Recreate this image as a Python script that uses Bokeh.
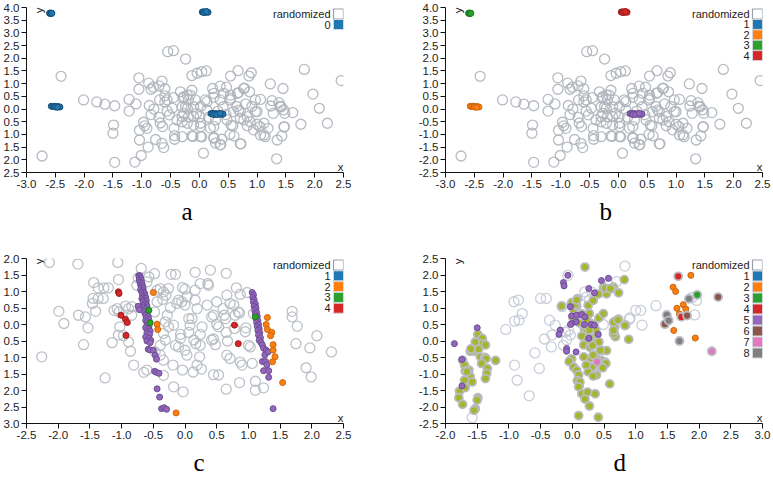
import math
from bokeh.plotting import figure
from bokeh.layouts import column, row
from bokeh.models import Range1d, FixedTicker, CustomJSTickFormatter, Title
from bokeh.core.properties import value
from bokeh.embed import file_html
from bokeh.resources import INLINE

# ---------------- data ----------------
# panels a and b share the same randomized (grey) points
AB_GREY_X = [-2.73, -2.40, -2.01, -1.78, -1.64, -1.47, -1.49, -1.50, -1.47, -1.12,
             -1.01, -1.05, -1.05, -1.22, -1.22, -1.10, -1.04, -1.04, -0.91, -0.89,
             -0.88, -0.84, -0.80, -0.87, -0.79, -0.95, -0.76, -0.70, -0.65, -0.60,
             -0.69, -0.60, -0.56, -0.70, -0.68, -0.64, -0.65, -0.62, -0.55, -0.45,
             -0.45, -0.47, -0.52, -0.44, -0.43, -0.43, -0.39, -0.33, -0.28, -0.30,
             -0.27, -0.30, -0.30, -0.24, -0.21, -0.19, -0.21, -0.19, -0.13, -0.04,
             0.04, 0.12, -0.13, -0.10, -0.05, -0.10, -0.13, 0.01, 0.02, 0.04,
             0.07, 0.10, 0.13, 0.23, 0.25, 0.25, 0.25, 0.28, 0.36, 0.36,
             0.41, 0.39, 0.37, 0.47, 0.54, 0.54, 0.53, 0.55, 0.53, 0.60,
             0.67, 0.66, 0.68, 0.71, 0.72, 0.77, 0.86, 0.90, 0.87, 0.83,
             0.83, 0.97, 1.00, 1.00, 1.06, 1.06, 1.14, 1.12, 1.19, 1.23,
             1.26, 1.24, 1.28, 1.38, 1.42, 1.45, 1.48, 1.47, 1.43, 1.35,
             1.34, 1.62, 1.76, 1.82, 1.97, 2.08, 2.22, 2.46, 0.19, 0.02,
             -0.11, -0.21, -0.10, 0.02, 0.02, 0.13, 0.25, 0.42, 0.54, 0.65,
             0.59, 0.77, 0.94, 0.48, 0.28, 0.71, 0.91, 0.97, -0.24, -0.27,
             -0.16, -0.07, -0.30, 0.78, 0.68, 1.40, 1.46, 1.05, 1.47, 1.12,
             0.58, 0.36, 0.25, 0.71, 0.32, 0.46, 0.16, -0.56, -0.60, -0.84,
             -0.97, 0.80, 0.88]
AB_GREY_Y = [-1.85, 1.29, 0.36, 0.28, 0.19, 0.13, -0.63, -0.95, -2.10, -2.09,
             -1.83, 1.23, 0.78, 0.38, -0.08, 0.20, -0.84, -1.22, -0.76, -1.50,
             1.02, 0.78, 0.86, 0.14, 0.00, -0.66, -1.20, 0.91, 1.10, 0.80,
             0.36, 0.28, 0.36, -0.33, -0.55, -0.69, -1.35, -1.52, 2.26, 2.30,
             0.45, 0.03, -0.23, -0.76, -1.05, -1.19, -0.43, 0.68, 0.43, 0.09,
             -0.17, -0.50, -1.09, 1.97, 0.55, 0.36, 0.03, -0.30, 1.32, 1.41,
             1.47, 1.50, 0.74, 0.09, -0.17, -0.63, -1.06, -0.30, -0.69, -1.10,
             -1.74, 0.36, -0.04, 0.81, 0.46, -0.69, -1.12, -1.34, 0.90, 0.36,
             0.09, -1.19, -1.40, 0.86, 1.30, 0.55, 0.36, -0.63, -1.00, -1.06,
             1.51, 0.62, -0.04, -0.36, -1.37, 0.81, 1.30, 1.43, 0.68, -0.30,
             -0.66, 0.36, -0.10, -0.60, -1.02, 0.38, -1.09, -0.56, -0.76, 0.99,
             0.33, 0.12, -0.17, 0.25, 0.09, 0.81, -0.17, -0.69, -1.06, -1.22,
             -1.96, -0.14, -0.60, 1.56, 0.59, 0.03, -0.56, 1.12, -0.75, -1.08,
             -1.08, -0.56, -0.30, -0.56, 0.10, 0.29, 0.62, 0.62, 0.43, 0.10,
             -0.10, -0.43, -0.82, -0.43, -0.43, -0.10, 0.10, -0.10, 0.10, 0.49,
             0.55, 0.36, -0.30, 0.82, 0.65, 0.10, -0.03, -0.69, -0.71, -1.02,
             -0.66, -1.41, -1.15, -1.37, -0.08, -0.22, -0.32, -0.08, 0.52, -0.22,
             -0.52, 0.20, -0.50]

# the four tight clusters of panels a / b
CL_TOPLEFT_X = [-2.60, -2.59, -2.58, -2.57, -2.56]
CL_TOPLEFT_Y = [3.77, 3.78, 3.76, 3.78, 3.77]
CL_TOPMID_X = [0.05, 0.07, 0.09, 0.11, 0.13, 0.15, 0.08, 0.12]
CL_TOPMID_Y = [3.82, 3.83, 3.81, 3.82, 3.83, 3.81, 3.80, 3.84]
CL_LEFT_X = [-2.57, -2.54, -2.51, -2.48, -2.45, -2.42, -2.50, -2.46]
CL_LEFT_Y = [0.11, 0.10, 0.11, 0.09, 0.10, 0.08, 0.08, 0.07]
CL_CENTER_X = [0.20, 0.23, 0.26, 0.29, 0.32, 0.35, 0.38, 0.41, 0.25, 0.30, 0.36]
CL_CENTER_Y = [-0.18, -0.17, -0.19, -0.18, -0.20, -0.19, -0.21, -0.20, -0.22, -0.22, -0.17]

# panel c
C_GREY_X = [-2.14, -1.69, -1.06, -0.69, -1.99, -1.91, -1.68, -1.57, -1.53, -1.60,
            -2.26, -1.26, -1.44, -1.37, -1.28, -1.21, -1.45, -1.37, -1.29, -1.46,
            -1.41, -1.12, -1.05, -1.07, -1.04, -0.94, -0.89, -0.84, -0.84, -1.03,
            -1.15, -1.05, -0.97, -0.89, -0.86, -0.81, -0.76, -0.74, -0.65, -0.60,
            -0.57, -0.48, -0.60, -0.44, -0.39, -0.44, -0.48, -0.34, -0.35, -0.30,
            -0.26, -0.22, -0.15, -0.23, -0.28, -0.31, -0.26, -0.18, -0.34, -0.31,
            -0.39, -0.47, -0.39, -0.34, -0.34, -0.19, -0.18, -0.15, -0.10, -0.07,
            -0.07, -0.13, -0.10, -0.05, 0.00, -0.04, 0.00, 0.03, 0.06, 0.11,
            0.08, 0.06, 0.14, 0.17, 0.00, 0.03, -0.04, -0.03, 0.16, 0.16,
            0.19, 0.16, 0.24, 0.27, 0.24, 0.24, 0.23, 0.19, 0.13, 0.26,
            0.36, 0.37, 0.35, 0.40, 0.45, 0.42, 0.45, 0.42, 0.48, 0.45,
            0.53, 0.50, 0.50, 0.53, 0.60, 0.62, 0.64, 0.65, 0.66, 0.65,
            0.67, 0.66, 0.71, 0.65, 0.71, 0.77, 0.79, 0.78, 0.81, 0.84,
            0.86, 0.87, 0.87, 0.90, 0.86, 0.95, 0.96, 0.98, 1.00, 1.03,
            1.06, 1.11, 1.11, 1.08, 1.24, 1.69, 1.69, 1.77, 1.75, 1.97,
            1.91, 1.99, 2.08, 2.31]
C_GREY_Y = [1.88, 1.83, 1.88, 1.70, 0.40, 0.03, 0.28, 0.23, -0.10, -0.61,
            -0.98, -1.62, 1.27, 1.11, 1.11, 1.11, 0.79, 0.79, 0.79, 0.64,
            0.40, 0.43, 1.36, 0.48, 0.38, 0.56, 0.48, 0.54, 0.28, -0.07,
            -0.55, -0.32, -0.34, -0.53, -0.81, -1.23, 1.19, 1.41, -1.45, -1.38,
            1.44, 1.54, 1.29, 1.04, 1.09, 0.69, 0.38, 0.99, 0.76, 0.89,
            1.09, 1.52, 1.52, 0.51, 0.28, 0.08, -0.07, -0.02, -0.27, -0.47,
            -0.63, -0.83, -0.93, -1.08, -1.54, -1.23, -1.89, -0.63, -0.68, -0.30,
            -0.42, 0.64, 0.74, 0.69, 0.59, 1.12, 1.07, 0.84, 0.18, 0.18,
            -0.02, -0.24, -0.47, -0.58, -0.78, -0.93, -1.38, -2.04, 1.04, 0.74,
            0.48, 1.58, 1.24, -0.07, -0.30, -0.63, -0.98, -1.23, -1.44, -1.35,
            1.24, 1.19, 0.59, 1.65, 0.28, 0.23, -0.44, -0.47, -0.61, -1.52,
            -1.53, 0.69, 0.00, -0.07, 0.48, 0.28, 0.18, 1.55, 0.89, -0.24,
            -0.50, -0.93, -1.03, -1.96, 0.64, 0.59, 0.28, -0.12, 1.11, 0.38,
            0.35, 0.91, -1.14, -1.23, -1.76, -0.22, -0.10, 0.97, -0.63, -0.68,
            -1.18, -1.72, -1.99, 0.33, -1.92, 0.40, 0.23, -0.05, -0.58, -0.71,
            -1.31, -1.59, -0.34, -0.83]

C_PURPLE_X = [-0.73, -0.71, -0.72, -0.70, -0.72, -0.69, -0.71, -0.68, -0.70, -0.67,
              -0.69, -0.66, -0.70, -0.66, -0.68, -0.64, -0.67, -0.63, -0.66, -0.62,
              -0.68, -0.65, -0.61, -0.66, -0.62, -0.64, -0.60, -0.65, -0.61, -0.63,
              -0.59, -0.64, -0.60, -0.62, -0.58, -0.61, -0.57, -0.62, -0.59, -0.56,
              -0.60, -0.57, -0.62, -0.58, -0.55, -0.60, -0.56, -0.62, -0.57, -0.54,
              -0.60, -0.55, -0.58, -0.55, -0.50, -0.47, -0.45, -0.48, -0.45, -0.41,
              -0.44, -0.40, -0.37, -0.33, -0.29, -0.74, -0.72,
              1.06, 1.08, 1.07, 1.09, 1.08, 1.11, 1.09, 1.12, 1.10, 1.13,
              1.11, 1.14, 1.12, 1.15, 1.13, 1.16, 1.14, 1.17, 1.15, 1.18,
              1.16, 1.19, 1.17, 1.20, 1.22, 1.24, 1.28, 1.26, 1.31, 1.22,
              1.27, 1.29, 1.24, 1.32, 1.32, 1.39]
C_PURPLE_Y = [1.48, 1.48, 1.42, 1.40, 1.35, 1.33, 1.28, 1.25, 1.20, 1.18,
              1.12, 1.10, 1.05, 1.02, 0.98, 0.95, 0.90, 0.88, 0.83, 0.80,
              0.78, 0.74, 0.72, 0.68, 0.64, 0.60, 0.57, 0.53, 0.50, 0.45,
              0.42, 0.38, 0.33, 0.28, 0.25, 0.20, 0.15, 0.12, 0.08, 0.03,
              -0.02, -0.06, -0.10, -0.15, -0.20, -0.25, -0.30, -0.38, -0.42, -0.48,
              -0.50, -0.55, -0.75, -0.77, -0.78, -0.93, -1.05, -1.42, -1.45, -1.48,
              -1.95, -2.20, -2.55, -2.52, -2.57, 0.55, 0.45,
              0.97, 0.90, 0.82, 0.75, 0.68, 0.62, 0.55, 0.50, 0.42, 0.36,
              0.30, 0.25, 0.18, 0.12, 0.06, 0.00, -0.06, -0.12, -0.18, -0.25,
              -0.32, -0.40, -0.48, -0.55, -0.62, -0.72, -0.78, -0.92, -0.83, -1.12,
              -1.12, -1.22, -1.40, -1.40, -1.60, -2.55]
C_ORANGE_X = [-0.50, -0.44, -0.43, -0.14, 1.30, 1.28, 1.30, 1.37, 1.35, 1.39, 1.39, 1.42, 1.38, 1.54]
C_ORANGE_Y = [0.97, 0.01, -0.15, -2.68, 0.21, 0.00, -0.15, -0.24, -0.34, -0.61, -0.78, -0.98, -1.13, -1.76]
C_RED_X = [-1.05, -1.04, -1.01, -0.94, -0.91, -0.93, 0.78, 0.84]
C_RED_Y = [0.99, 0.94, 0.28, 0.16, 0.06, -0.33, -0.02, -0.58]
C_GREEN_X = [-0.57, -0.55, 1.11]
C_GREEN_Y = [0.43, 0.05, 0.23]

# panel d
D_GREY_X = [-1.58, -1.05, -0.92, -0.85, -0.91, -0.84, -0.79, -0.91, -0.87, -0.68,
            -0.59, -0.52, -0.50, -0.41, -0.44, -0.36, -0.33, -0.32, -0.27, -0.16,
            -0.14, -0.09, -0.07, -0.03, 0.20, 0.23, 0.27, 0.49, 0.70, 0.83,
            0.90, 0.91, 1.00, 1.08, 1.10, 1.32, 1.96, 1.93, -0.11, -0.06,
            0.31, 1.89, 0.58]
D_GREY_Y = [-2.32, 0.35, 1.19, 1.24, 0.60, 0.63, 0.83, -0.73, -1.19, -1.66,
            -0.36, -0.83, 1.29, 1.29, 0.06, 0.63, -0.18, 0.18, 0.48, 1.04,
            -0.13, 0.03, 1.99, 0.18, 1.49, 1.34, 1.24, 0.50, 1.80, 2.27,
            0.66, 0.70, 0.93, 0.93, 0.48, 1.07, 1.23, 0.79, 0.27, 0.32,
            1.48, 1.32, 1.68]
D_OLIVE_X = [-1.49, -1.42, -1.38, -1.43, -1.53, -1.59, -1.55, -1.48, -1.45, -1.38,
             -1.36, -1.43, -1.34, -1.35, -1.37, -1.49, -1.50, -1.53, -1.55, -1.73,
             -1.70, -1.69, -1.63, -1.61, -1.58, -1.70, -1.69, -1.78, -1.79, -1.73,
             -1.66, -1.61, -1.21, -1.37, -1.60,
             0.20, -0.17, -0.01, 0.02, 0.07, 0.08, 0.25, 0.33, 0.25, 0.49,
             0.54, 0.65, 0.73, 0.01, 0.10, 0.15, 0.11, 0.19, 0.23, 0.15,
             0.28, 0.33, 0.23, 0.18, 0.28, 0.36, 0.38, 0.31, 0.37, 0.47,
             0.46, 0.38, 0.30, 0.31, 0.45, 0.52, 0.38, 0.54, -0.01, -0.05,
             0.02, 0.07, 0.10, 0.08, 0.11, 0.15, 0.24, 0.36, 0.27, 0.10,
             0.41, 0.59, 0.82, 0.62, 0.41, 0.42, 0.49, 0.68, 0.73, 0.67,
             0.66, 0.68, 0.84, 0.89, 0.42, 0.44, 0.53, 0.48, 0.25, 0.33,
             0.12, 0.10, 0.20, 0.20, 0.27, 0.33, 0.18, 0.22, 0.32, 0.52,
             0.60, 0.65, 0.72, 0.83, 0.65, 0.65, 0.05, 0.07, 0.27, 0.23]
D_OLIVE_Y = [0.20, 0.08, -0.11, -0.08, -0.03, -0.25, -0.31, -0.25, -0.48, -0.50,
             -0.53, -0.68, -0.83, -0.98, -1.14, -1.72, -1.79, -2.05, -2.10, -0.58,
             -0.73, -0.91, -0.88, -1.08, -1.24, -1.19, -1.41, -1.52, -1.72, -1.92,
             -0.93, -0.31, -0.59, -0.12, -0.24,
             2.24, 1.06, 1.16, 0.96, 1.06, 1.28, 1.08, 1.23, 0.82, 1.61,
             1.43, 1.63, 1.46, 0.72, 0.69, 0.82, 0.55, 0.37, 0.27, 0.15,
             0.22, 0.12, -0.02, -0.12, -0.19, -0.04, 0.22, 0.52, 0.32, -0.29,
             -0.59, -0.54, -0.52, -0.79, -0.79, -0.64, -1.03, -0.29, -0.54, -0.62,
             -0.79, -0.89, -1.03, -1.20, -1.35, -1.60, -1.55, -1.60, -1.97, -2.26,
             -2.31, -1.30, 1.86, 1.59, 1.42, 0.70, 0.83, 0.60, 0.66, 0.43,
             0.23, 0.13, 0.48, 0.05, -0.03, -0.28, -0.68, -0.81, -0.93, -1.06,
             -1.24, -1.39, -1.76, 0.48, 0.33, -0.43, -0.48, -0.73, -0.13, 1.60,
             1.59, 0.57, 0.64, 0.47, 0.22, 0.32, 1.11, 1.24, 0.83, 0.63]
D_PURPLE_X = [-1.86, -1.50, -1.74, -1.74, -0.07, -0.14, -0.13, -0.03, -0.01, 0.07,
              0.15, 0.06, -0.01, -0.03, -0.19, -0.21, -0.09, -0.09, 0.06, 0.26,
              0.35, 0.46, 0.57, 0.30, 0.35, 0.19, 0.41, 0.26, 0.20]
D_PURPLE_Y = [-0.08, 0.40, -0.56, -1.36, 1.99, 1.77, 1.67, 1.04, 0.76, 0.78,
              0.80, 0.58, 0.53, 0.50, 0.33, 0.20, -0.23, -0.31, -0.33, 1.59,
              1.46, 1.83, 1.90, 0.50, 0.48, 0.50, 0.20, 0.08, 0.73]
D_ORANGE_X = [1.87, 1.59, 1.63, 1.65, 1.75, 1.79, 1.69, 1.60, 1.94]
D_ORANGE_Y = [1.99, 1.63, 1.50, 0.99, 1.10, 0.97, 0.82, 0.32, 0.09]
D_RED_X = [1.67, 1.72]
D_RED_Y = [1.96, 0.73]
D_BROWN_X = [2.30, 1.81, 1.46]
D_BROWN_Y = [1.33, 0.77, 0.51]
D_GRAY_X = [1.84, 1.49, 1.52, 1.69]
D_GRAY_Y = [1.28, 0.79, 0.62, 0.00]
D_GREEN_X = [1.97]
D_GREEN_Y = [1.40]
D_PINK_X = [0.39, 2.20]
D_PINK_Y = [-0.63, -0.31]

TICKS_X_AB = [-3.0, -2.5, -2.0, -1.5, -1.0, -0.5, 0.0, 0.5, 1.0, 1.5, 2.0, 2.5]
TICKS_Y_AB = [-2.5, -2.0, -1.5, -1.0, -0.5, 0.0, 0.5, 1.0, 1.5, 2.0, 2.5, 3.0, 3.5, 4.0]
TICKS_X_C = [-2.5, -2.0, -1.5, -1.0, -0.5, 0.0, 0.5, 1.0, 1.5, 2.0, 2.5]
TICKS_Y_C = [-3.0, -2.5, -2.0, -1.5, -1.0, -0.5, 0.0, 0.5, 1.0, 1.5, 2.0]
TICKS_X_D = [-2.0, -1.5, -1.0, -0.5, 0.0, 0.5, 1.0, 1.5, 2.0, 2.5, 3.0]
TICKS_Y_D = [-2.5, -2.0, -1.5, -1.0, -0.5, 0.0, 0.5, 1.0, 1.5, 2.0, 2.5]

LEGEND_A = ["0"]
LEGEND_BC = ["1", "2", "3", "4"]
LEGEND_D = ["1", "2", "3", "4", "5", "6", "7", "8"]

# ---------------- style ----------------
CAT = {"0": "#1f77b4", "1": "#1f77b4", "2": "#ff7f0e", "3": "#2ca02c", "4": "#d62728",
       "5": "#9467bd", "6": "#8c564b", "7": "#e377c2", "8": "#7f7f7f"}
DARK = {"#1f77b4": "#174f78", "#ff7f0e": "#c8650f", "#2ca02c": "#1f7a1f", "#d62728": "#9e1d1d",
        "#9467bd": "#6b4c93", "#8c564b": "#654036", "#e377c2": "#b4589a", "#7f7f7f": "#5c5c5c"}
OLIVE = "#a6b52a"
GREY_RING = "#aeb4bb"
FONT = "Liberation Sans"
FW, FH = 317, 165


def panel(xr, yr, xticks, yticks, strip_minus, bl, br, bt, bb, caption, cap_off, legend, spacing):
    p = figure(frame_width=FW, frame_height=FH, x_range=Range1d(*xr), y_range=Range1d(*yr),
               min_border_left=bl, min_border_right=br, min_border_top=bt, min_border_bottom=bb,
               output_backend="svg", toolbar_location=None)
    p.outline_line_color = None
    p.grid.visible = False
    p.xaxis.ticker = FixedTicker(ticks=xticks)
    p.yaxis.ticker = FixedTicker(ticks=yticks)
    p.xaxis.formatter = CustomJSTickFormatter(code="return tick.toFixed(1);")
    if strip_minus:
        p.yaxis.formatter = CustomJSTickFormatter(code="return Math.abs(tick).toFixed(1);")
    else:
        p.yaxis.formatter = CustomJSTickFormatter(code="return tick.toFixed(1);")
    for ax in (p.xaxis, p.yaxis):
        ax.minor_tick_line_color = None
        ax.major_tick_in = 0
        ax.major_tick_out = 5
        ax.major_label_standoff = 2
        ax.axis_line_color = "#111"
        ax.major_tick_line_color = "#111"
        ax.major_label_text_font = FONT
        ax.major_label_text_font_size = "11.5px"
        ax.major_label_text_color = "#222"
    # axis names inside the frame
    p.text(x=[xr[0]], y=[yr[1]], text=["y"], angle=math.pi / 2, x_offset=6, y_offset=0,
           text_align="right", text_baseline="top", text_font=value(FONT),
           text_font_size="11.5px", text_color="#222")
    p.text(x=[xr[1]], y=[yr[0]], text=["x"], x_offset=0, y_offset=-6,
           text_align="right", text_baseline="alphabetic", text_font=value(FONT),
           text_font_size="11.5px", text_color="#222")
    # legend (text left of the square, top right)
    dxp = (xr[1] - xr[0]) / FW
    dyp = (yr[1] - yr[0]) / FH
    labels = ["randomized"] + legend
    ys = [yr[1] - (6.5 + spacing * i) * dyp for i in range(len(labels))]
    xs = [xr[1] - 5 * dxp] * len(labels)
    p.scatter(x=xs[:1], y=ys[:1], marker="square", size=10, fill_color="white",
              line_color="#9aa0a8", line_width=1.2)
    p.scatter(x=xs[1:], y=ys[1:], marker="square", size=10,
              fill_color=[CAT[l] for l in legend], line_color="#d3d6da", line_width=1)
    p.text(x=[xr[1]] * len(labels), y=ys, text=labels, x_offset=-13,
           text_align="right", text_baseline="middle", text_font=value(FONT),
           text_font_size="11px", text_color="#222")
    t = Title(text=caption, align="left", text_font="Liberation Serif",
              text_font_size="25px", text_font_style="normal", text_color="#000",
              offset=cap_off, standoff=11)
    p.add_layout(t, "below")
    return p


def grey(p, xs, ys, color=GREY_RING):
    p.scatter(xs, ys, size=10, fill_color=None, line_color=color, line_width=1.3, line_alpha=0.9)


def dots(p, xs, ys, color, ring=False, size=6):
    if ring:
        p.scatter(xs, ys, size=size + 2, fill_color=color, line_color="#b8bcc2", line_width=1.8)
    else:
        p.scatter(xs, ys, size=size, fill_color=color, line_color=DARK.get(color, color), line_width=1)


# panel a
pa = panel((-3.0, 2.5), (-2.5, 4.0), TICKS_X_AB, TICKS_Y_AB, True, 26, 43, 7, 73, "a", 155, LEGEND_A, 10.5)
grey(pa, AB_GREY_X, AB_GREY_Y)
for cx, cy in ((CL_TOPLEFT_X, CL_TOPLEFT_Y), (CL_TOPMID_X, CL_TOPMID_Y),
               (CL_LEFT_X, CL_LEFT_Y), (CL_CENTER_X, CL_CENTER_Y)):
    dots(pa, cx, cy, CAT["0"])

# panel b
pb = panel((-3.0, 2.5), (-2.5, 4.0), TICKS_X_AB, TICKS_Y_AB, False, 59, 10, 7, 73, "b", 154, LEGEND_BC, 10.4)
grey(pb, AB_GREY_X, AB_GREY_Y)
dots(pb, CL_TOPLEFT_X, CL_TOPLEFT_Y, CAT["3"])
dots(pb, CL_TOPMID_X, CL_TOPMID_Y, CAT["4"])
dots(pb, CL_LEFT_X, CL_LEFT_Y, CAT["2"])
dots(pb, CL_CENTER_X, CL_CENTER_Y, CAT["5"])

# panel c
pc = panel((-2.5, 2.5), (-3.0, 2.0), TICKS_X_C, TICKS_Y_C, True, 26, 43, 13, 54, "c", 167, LEGEND_BC, 10.8)
grey(pc, C_GREY_X, C_GREY_Y, "#b6bbc2")
dots(pc, C_PURPLE_X, C_PURPLE_Y, CAT["5"])
dots(pc, C_ORANGE_X, C_ORANGE_Y, CAT["2"])
dots(pc, C_RED_X, C_RED_Y, CAT["4"])
dots(pc, C_GREEN_X, C_GREEN_Y, CAT["3"])

# panel d
pd = panel((-2.0, 3.0), (-2.5, 2.5), TICKS_X_D, TICKS_Y_D, False, 59, 10, 13, 54, "d", 168, LEGEND_D, 11.0)
grey(pd, D_GREY_X, D_GREY_Y, "#c3c9d6")
dots(pd, D_OLIVE_X, D_OLIVE_Y, OLIVE, ring=True)
dots(pd, D_PURPLE_X, D_PURPLE_Y, CAT["5"])
dots(pd, D_ORANGE_X, D_ORANGE_Y, CAT["2"])
dots(pd, D_RED_X, D_RED_Y, CAT["4"], ring=True)
dots(pd, D_BROWN_X, D_BROWN_Y, CAT["6"], ring=True)
dots(pd, D_GRAY_X, D_GRAY_Y, CAT["8"], ring=True)
dots(pd, D_GREEN_X, D_GREEN_Y, CAT["3"], ring=True)
dots(pd, D_PINK_X, D_PINK_Y, CAT["7"], ring=True)

layout = column(row(pa, pb), row(pc, pd))
open("out.html", "w").write(file_html(layout, INLINE))
